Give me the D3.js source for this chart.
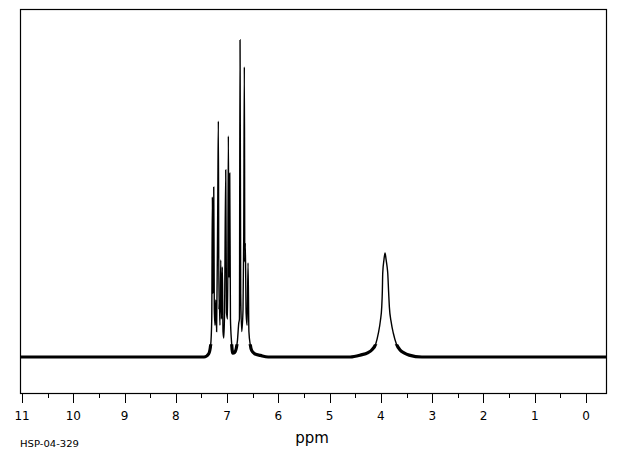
<!DOCTYPE html>
<html>
<head>
<meta charset="utf-8">
<script src="https://cdn.jsdelivr.net/npm/d3@7"></script>
<style>
  body { margin: 0; background: #fff; }
  text { font-family: "DejaVu Sans", sans-serif; fill: #000; }
</style>
</head>
<body>
<div id="chart"></div>
<script>
// ppm window of the plot
var ppmRange = [11.04, -0.39];

// aromatic multiplet: [ppm, intensity] (tallest line = 100)
var multiplet = [
  [7.45, 0], [7.36, 1], [7.32, 4], [7.300, 12], [7.288, 50.5], [7.278, 20],
  [7.261, 53.6], [7.250, 15], [7.236, 10], [7.222, 18], [7.205, 8],
  [7.183, 47.3], [7.171, 74.4], [7.160, 15], [7.151, 18], [7.140, 10],
  [7.124, 30.6], [7.110, 12], [7.093, 28.4], [7.080, 8], [7.065, 6],
  [7.050, 14], [7.027, 59], [7.012, 14], [6.990, 12], [6.976, 69.7],
  [6.963, 25], [6.949, 58], [6.935, 12], [6.915, 5], [6.890, 1.2],
  [6.850, 1.5], [6.800, 5], [6.773, 10.7], [6.760, 12], [6.748, 100],
  [6.735, 20], [6.715, 8], [6.690, 15], [6.676, 37.9], [6.664, 91.5],
  [6.655, 30], [6.645, 36], [6.630, 14], [6.610, 10], [6.592, 29.7],
  [6.575, 8], [6.550, 4], [6.52, 2], [6.46, 1], [6.35, 0.5], [6.2, 0]
];

// broad exchangeable peak near 3.9 ppm
var broadPeak = [
  [4.60, 0], [4.40, 0.6], [4.25, 1.4], [4.179, 2.2], [4.10, 4.2],
  [4.050, 7.5], [4.01, 11.5], [3.984, 15.9], [3.972, 21], [3.965, 26.4],
  [3.94, 30.8], [3.920, 32.8], [3.90, 30.8], [3.880, 28.5], [3.867, 26.4],
  [3.850, 20.5], [3.836, 15.9], [3.80, 11], [3.758, 7.5], [3.70, 4.2],
  [3.627, 2.2], [3.55, 1.3], [3.45, 0.6], [3.2, 0]
];

// the noise makes the trace look thick up to about this intensity
var noiseLevel = 4;

var majorTicks = [11, 10, 9, 8, 7, 6, 5, 4, 3, 2, 1, 0];
var minorTicks = [10.5, 9.5, 8.5, 7.5, 6.5, 5.5, 4.5, 3.5, 2.5, 1.5, 0.5];

var width = 620, height = 455;
var plotLeft = 20, plotRight = 606, plotTop = 9, plotBottom = 393;

var svg = d3.select("#chart").append("svg")
  .attr("width", width)
  .attr("height", height);

var x = d3.scaleLinear().domain(ppmRange).range([plotLeft, plotRight]);
var y = d3.scaleLinear().domain([0, 100]).range([357, 40]);

// frame
svg.append("rect")
  .attr("x", plotLeft + 0.5)
  .attr("y", plotTop + 0.5)
  .attr("width", plotRight - plotLeft)
  .attr("height", plotBottom - plotTop)
  .attr("fill", "none")
  .attr("stroke", "#000")
  .attr("stroke-width", 1.2);

// clip for the thick noisy foot of the trace
svg.append("clipPath")
  .attr("id", "noiseClip")
  .append("rect")
  .attr("x", plotLeft + 1)
  .attr("y", y(noiseLevel))
  .attr("width", plotRight - plotLeft - 1)
  .attr("height", plotBottom - y(noiseLevel));

var trace = [[ppmRange[0], 0]].concat(multiplet, broadPeak, [[ppmRange[1], 0]]);
var line = d3.line()
  .curve(d3.curveMonotoneX)
  .x(function(d) { return x(d[0]); })
  .y(function(d) { return y(d[1]); });

// noise band
svg.append("path")
  .datum(trace)
  .attr("d", line)
  .attr("fill", "none")
  .attr("stroke", "#000")
  .attr("stroke-width", 3.2)
  .attr("clip-path", "url(#noiseClip)");

// spectrum trace
svg.append("path")
  .datum(trace)
  .attr("d", line)
  .attr("fill", "none")
  .attr("stroke", "#000")
  .attr("stroke-width", 1.4);

// x axis ticks
svg.selectAll(".major")
  .data(majorTicks)
  .enter()
  .append("line")
  .attr("x1", function(d) { return Math.round(x(d)) + 0.5; })
  .attr("x2", function(d) { return Math.round(x(d)) + 0.5; })
  .attr("y1", plotBottom)
  .attr("y2", plotBottom + 10)
  .attr("stroke", "#000");

svg.selectAll(".minor")
  .data(minorTicks)
  .enter()
  .append("line")
  .attr("x1", function(d) { return Math.round(x(d)) + 0.5; })
  .attr("x2", function(d) { return Math.round(x(d)) + 0.5; })
  .attr("y1", plotBottom)
  .attr("y2", plotBottom + 5)
  .attr("stroke", "#000");

svg.selectAll(".tickLabel")
  .data(majorTicks)
  .enter()
  .append("text")
  .attr("x", function(d) { return x(d); })
  .attr("y", 419.5)
  .attr("text-anchor", "middle")
  .attr("font-size", "12px")
  .text(function(d) { return d; });

// axis title
svg.append("text")
  .attr("x", 312)
  .attr("y", 443)
  .attr("text-anchor", "middle")
  .attr("font-size", "15px")
  .text("ppm");

// sample code
svg.append("text")
  .attr("x", 20)
  .attr("y", 447)
  .attr("font-size", "8px")
  .attr("textLength", 59)
  .attr("lengthAdjust", "spacingAndGlyphs")
  .text("HSP-04-329");
</script>
</body>
</html>
